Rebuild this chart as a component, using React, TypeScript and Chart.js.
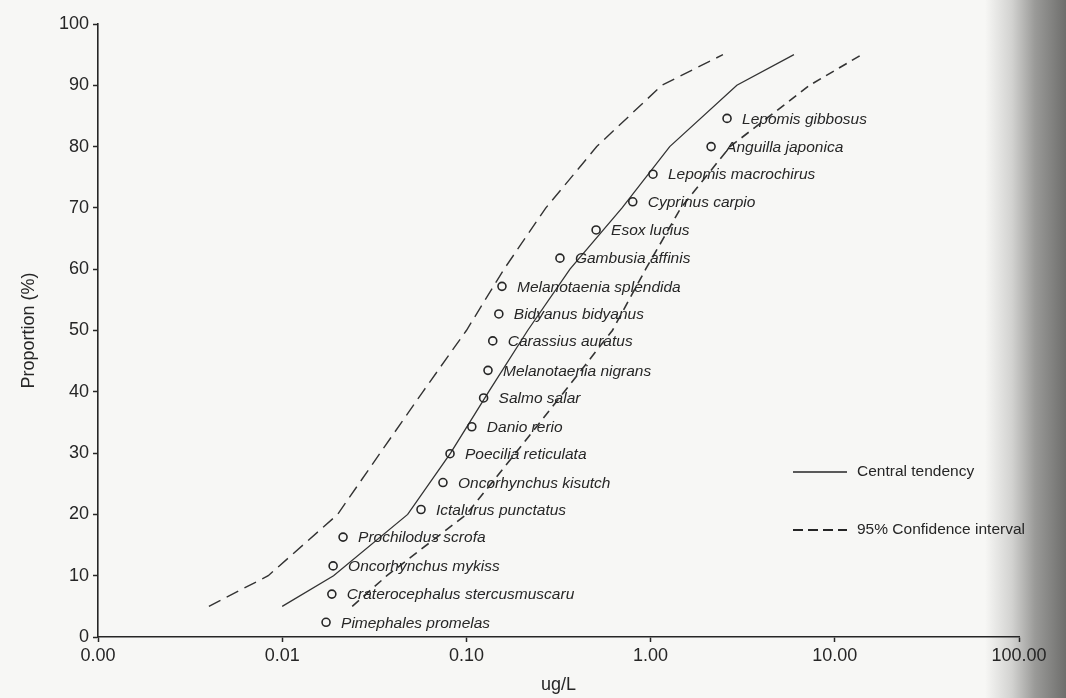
import React, { useEffect, useRef } from 'react';
import { Chart, registerables } from 'chart.js';

Chart.register(...registerables);

// ---- data ----
const speciesNames = [
  'Pimephales promelas',
  'Craterocephalus stercusmuscaru',
  'Oncorhynchus mykiss',
  'Prochilodus scrofa',
  'Ictalurus punctatus',
  'Oncorhynchus kisutch',
  'Poecilia reticulata',
  'Danio rerio',
  'Salmo salar',
  'Melanotaenia nigrans',
  'Carassius auratus',
  'Bidyanus bidyanus',
  'Melanotaenia splendida',
  'Gambusia affinis',
  'Esox lucius',
  'Cyprinus carpio',
  'Lepomis macrochirus',
  'Anguilla japonica',
  'Lepomis gibbosus',
];
const speciesConc = [
  0.0173, 0.0186, 0.0189, 0.0214, 0.0567, 0.0746, 0.0815, 0.107, 0.124, 0.131,
  0.139, 0.150, 0.156, 0.322, 0.506, 0.80, 1.03, 2.13, 2.60,
];
const speciesProp = [
  2.4, 7.0, 11.6, 16.3, 20.8, 25.2, 29.9, 34.3, 39.0, 43.5,
  48.3, 52.7, 57.2, 61.8, 66.4, 71.0, 75.5, 80.0, 84.6,
];

const curveProp = [5, 10, 20, 30, 40, 50, 60, 70, 80, 90, 95];
const centralConc = [0.01, 0.019, 0.048, 0.082, 0.132, 0.215, 0.365, 0.70, 1.27, 2.94, 6.0];
const lowerConc = [0.004, 0.0084, 0.020, 0.034, 0.058, 0.10, 0.16, 0.27, 0.51, 1.15, 2.47];
const upperConc = [0.024, 0.037, 0.10, 0.185, 0.34, 0.62, 0.94, 1.46, 2.7, 7.3, 14];

const xTickValues = [0.001, 0.01, 0.1, 1, 10, 100];
const xTickLabels = ['0.00', '0.01', '0.10', '1.00', '10.00', '100.00'];
const yTickStep = 10;
const xTitle = 'ug/L';
const yTitle = 'Proportion (%)';
const legendLabels = ['Central tendency', '95% Confidence interval'];

const FONT = '"Liberation Sans", Arial, Helvetica, sans-serif';
const INK = '#262626';

const toXY = (xs: number[], ys: number[]) => xs.map((x, i) => ({ x, y: ys[i] }));

const pointLabelPlugin = {
  id: 'pointLabels',
  afterDatasetsDraw(chart: any) {
    const meta = chart.getDatasetMeta(0);
    const ctx = chart.ctx;
    ctx.save();
    ctx.font = `italic 15.5px ${FONT}`;
    ctx.fillStyle = INK;
    ctx.textAlign = 'left';
    ctx.textBaseline = 'middle';
    meta.data.forEach((el: any, i: number) => {
      ctx.fillText(speciesNames[i], el.x + 15, el.y + 1);
    });
    ctx.restore();
  },
};

const legendPlugin = {
  id: 'customLegend',
  afterDraw(chart: any) {
    const { ctx, chartArea: a } = chart;
    const x0 = a.right - 226;
    const x1 = a.right - 172;
    const tx = a.right - 162;
    const rows = [
      { y: a.top + 448, dash: [] as number[], text: legendLabels[0] },
      { y: a.top + 506, dash: [10, 5], text: legendLabels[1] },
    ];
    ctx.save();
    ctx.strokeStyle = INK;
    ctx.fillStyle = INK;
    ctx.font = `15.5px ${FONT}`;
    ctx.textAlign = 'left';
    ctx.textBaseline = 'middle';
    rows.forEach((r) => {
      ctx.beginPath();
      ctx.setLineDash(r.dash);
      ctx.lineWidth = r.dash.length ? 1.8 : 1.4;
      ctx.moveTo(x0, r.y);
      ctx.lineTo(x1, r.y);
      ctx.stroke();
      ctx.setLineDash([]);
      ctx.fillText(r.text, tx, r.y);
    });
    ctx.restore();
  },
};

export default function App() {
  const canvasRef = useRef<HTMLCanvasElement | null>(null);

  useEffect(() => {
    if (!canvasRef.current) return;
    const tickFont = { family: FONT, size: 18 };
    const chart = new Chart(canvasRef.current, {
      type: 'scatter',
      data: {
        datasets: [
          {
            label: 'Species',
            data: toXY(speciesConc, speciesProp),
            showLine: false,
            pointStyle: 'circle',
            pointRadius: 4,
            pointBorderWidth: 1.6,
            pointBorderColor: INK,
            pointBackgroundColor: 'rgba(0,0,0,0)',
          },
          {
            label: legendLabels[0],
            data: toXY(centralConc, curveProp),
            showLine: true,
            borderColor: '#333',
            borderWidth: 1.3,
            pointRadius: 0,
            tension: 0,
          },
          {
            label: 'Lower 95%',
            data: toXY(lowerConc, curveProp),
            showLine: true,
            borderColor: '#333',
            borderWidth: 1.4,
            borderDash: [13, 7],
            pointRadius: 0,
            tension: 0,
          },
          {
            label: 'Upper 95%',
            data: toXY(upperConc, curveProp),
            showLine: true,
            borderColor: '#333',
            borderWidth: 1.6,
            borderDash: [9, 6],
            pointRadius: 0,
            tension: 0,
          },
        ],
      },
      options: {
        responsive: true,
        maintainAspectRatio: false,
        animation: false,
        events: [],
        layout: { padding: { left: 0, right: 47, top: 24, bottom: 0 } },
        plugins: {
          legend: { display: false },
          tooltip: { enabled: false },
        },
        scales: {
          x: {
            type: 'logarithmic',
            position: 'bottom',
            min: 0.001,
            max: 100,
            afterBuildTicks: (s: any) => {
              s.ticks = xTickValues.map((v) => ({ value: v }));
            },
            afterFit: (s: any) => {
              s.height = 61;
            },
            ticks: {
              autoSkip: false,
              maxRotation: 0,
              color: INK,
              font: tickFont,
              padding: 3,
              callback: (_v: any, i: number) => xTickLabels[i],
            },
            grid: {
              drawOnChartArea: false,
              drawTicks: true,
              tickLength: 5,
              tickColor: INK,
              tickWidth: 1.5,
            },
            border: { display: true, color: INK, width: 1.6 },
            title: {
              display: true,
              text: xTitle,
              color: INK,
              font: { family: FONT, size: 18 },
              padding: { top: 0, bottom: 2 },
            },
          },
          y: {
            type: 'linear',
            min: 0,
            max: 100,
            afterFit: (s: any) => {
              s.width = 98;
            },
            ticks: {
              stepSize: yTickStep,
              color: INK,
              font: tickFont,
              padding: 4,
            },
            grid: {
              drawOnChartArea: false,
              drawTicks: true,
              tickLength: 5,
              tickColor: INK,
              tickWidth: 1.5,
            },
            border: { display: true, color: INK, width: 1.6 },
            title: {
              display: true,
              text: yTitle,
              color: INK,
              font: { family: FONT, size: 18 },
              padding: { top: 18, bottom: 0 },
            },
          },
        },
      },
      plugins: [pointLabelPlugin, legendPlugin],
    } as any);
    return () => chart.destroy();
  }, []);

  return (
    <div
      style={{
        position: 'absolute',
        left: 0,
        top: 0,
        width: 1066,
        height: 698,
        background:
          'linear-gradient(to right, #f7f7f5 0px, #f7f7f5 985px, #d2d2d0 1012px, #9a9a98 1035px, #6e6e6c 1066px)',
      }}
    >
      <canvas ref={canvasRef} />
    </div>
  );
}
